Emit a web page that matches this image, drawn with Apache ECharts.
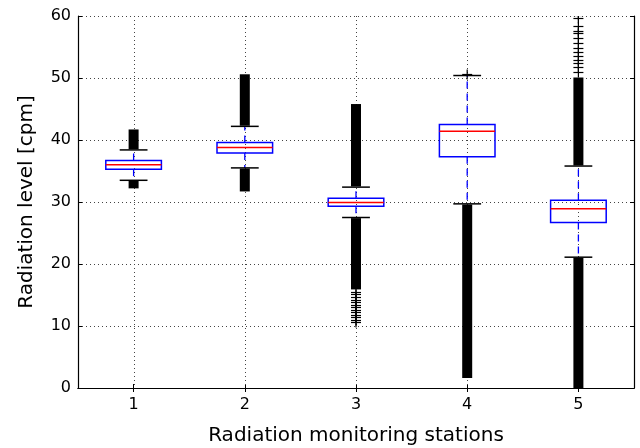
<!DOCTYPE html>
<html>
<head>
<meta charset="utf-8">
<script src="https://cdn.jsdelivr.net/npm/echarts@6/dist/echarts.min.js"></script>
<style>html,body{margin:0;padding:0;background:#fff}#c{width:640px;height:448px}</style>
</head>
<body>
<div id="c"></div>
<script>
// ---- data ----
const stations = ['1', '2', '3', '4', '5'];
const whiskerLow  = [33.5, 35.5, 27.5, 29.7, 21.1];
const q1          = [35.3, 37.9, 29.3, 37.3, 26.7];
const median      = [36.0, 38.8, 29.9, 41.4, 28.9];
const q3          = [36.7, 39.6, 30.6, 42.5, 30.3];
const whiskerHigh = [38.4, 42.2, 32.4, 50.4, 35.8];
const yTicks = [0, 10, 20, 30, 40, 50, 60];
// dense runs of outliers: [station index, low, high]
const outlierRuns = [
  [0, 38.5, 41.7], [0, 32.2, 33.4],
  [1, 42.3, 50.6], [1, 31.7, 35.4],
  [2, 32.5, 45.8], [2, 15.9, 27.4],
  [3, 1.6, 29.6],
  [4, 35.9, 50.1], [4, -1, 21.0]
];
// isolated outliers: [station index, value]
const outlierPoints = [
  [2, 15.5], [2, 15.1], [2, 14.6], [2, 14.2], [2, 13.8], [2, 13.4], [2, 13.0],
  [2, 12.6], [2, 12.2], [2, 11.8], [2, 11.4], [2, 11.0], [2, 10.6],
  [3, 50.7],
  [4, 51.0], [4, 51.7], [4, 52.4], [4, 52.9], [4, 53.6], [4, 54.2], [4, 54.9],
  [4, 55.7], [4, 56.4], [4, 57.3], [4, 57.6], [4, 58.4], [4, 59.6], [4, 60.2]
];

const FONT = 'DejaVu Sans';
const chart = echarts.init(document.getElementById('c'), null, {renderer: 'canvas'});

function vgrid(params, api) {
  const i = api.value(0);
  const x = Math.round(api.coord([i, 0])[0]) + 0.5;
  const cs = params.coordSys;
  return {
    type: 'line',
    shape: {x1: x, y1: cs.y, x2: x, y2: cs.y + cs.height},
    style: {stroke: '#444', lineWidth: 1, lineDash: [1, 3]}
  };
}

function runItem(params, api) {
  const i = api.value(0);
  const x = api.coord([i, 0])[0];
  const yLo = api.coord([i, api.value(1)])[1];
  const yHi = api.coord([i, api.value(2)])[1];
  return {
    type: 'rect',
    shape: {x: x - 5, y: yHi, width: 10, height: yLo - yHi},
    style: {fill: '#000'}
  };
}

function pointItem(params, api) {
  const i = api.value(0);
  const p = api.coord([i, api.value(1)]);
  const x = p[0], y = Math.round(p[1]) + 0.5;
  return {
    type: 'group',
    children: [
      {type: 'line', shape: {x1: x - 5, y1: y, x2: x + 5, y2: y}, style: {stroke: '#000', lineWidth: 1.2}},
      {type: 'line', shape: {x1: x, y1: y - 5, x2: x, y2: y + 5}, style: {stroke: '#000', lineWidth: 1.2}}
    ]
  };
}

function boxItem(params, api) {
  const i = api.value(0);
  const x = api.coord([i, 0])[0];
  const bw = api.size([1, 0])[0] * 0.5;
  const cw = bw * 0.5;
  const yWl = api.coord([i, api.value(1)])[1];
  const yQ1 = api.coord([i, api.value(2)])[1];
  const yMd = api.coord([i, api.value(3)])[1];
  const yQ3 = api.coord([i, api.value(4)])[1];
  const yWh = api.coord([i, api.value(5)])[1];
  const dash = {stroke: '#0000ff', lineWidth: 1.3, lineDash: [7, 5]};
  return {
    type: 'group',
    children: [
      {type: 'line', shape: {x1: x, y1: yQ3, x2: x, y2: yWh}, style: dash},
      {type: 'line', shape: {x1: x, y1: yQ1, x2: x, y2: yWl}, style: dash},
      {type: 'line', shape: {x1: x - cw / 2, y1: yWh, x2: x + cw / 2, y2: yWh}, style: {stroke: '#000', lineWidth: 1.5}},
      {type: 'line', shape: {x1: x - cw / 2, y1: yWl, x2: x + cw / 2, y2: yWl}, style: {stroke: '#000', lineWidth: 1.5}},
      {type: 'rect', shape: {x: x - bw / 2, y: yQ3, width: bw, height: yQ1 - yQ3}, style: {fill: 'none', stroke: '#0000ff', lineWidth: 1.5}},
      {type: 'line', shape: {x1: x - bw / 2, y1: yMd, x2: x + bw / 2, y2: yMd}, style: {stroke: '#ff0000', lineWidth: 1.5}}
    ]
  };
}

const axisLine = {show: true, lineStyle: {color: '#000', width: 1.2}};
const tickStyle = {show: true, inside: true, length: 4, lineStyle: {color: '#000', width: 1}};

chart.setOption({
  animation: false,
  backgroundColor: '#fff',
  grid: {left: 78, right: 6, top: 16, bottom: 60, containLabel: false, outerBoundsMode: 'none'},
  xAxis: [{
    type: 'category', data: stations, position: 'bottom',
    boundaryGap: true,
    axisLine: axisLine,
    axisTick: Object.assign({alignWithLabel: true}, tickStyle),
    axisLabel: {color: '#000', fontFamily: FONT, fontSize: 16, margin: 9},
    splitLine: {show: false},
    name: 'Radiation monitoring stations', nameLocation: 'middle', nameGap: 38,
    nameTextStyle: {color: '#000', fontFamily: FONT, fontSize: 20}
  }, {
    type: 'category', data: stations, position: 'top',
    boundaryGap: true,
    axisLine: axisLine,
    axisTick: Object.assign({alignWithLabel: true}, tickStyle),
    axisLabel: {show: false},
    splitLine: {show: false}
  }],
  yAxis: [{
    type: 'value', min: 0, max: 60, interval: 10, position: 'left',
    axisLine: axisLine,
    axisTick: tickStyle,
    axisLabel: {color: '#000', fontFamily: FONT, fontSize: 16, margin: 7},
    splitLine: {show: true, lineStyle: {color: '#444', width: 1, type: [1, 3]}},
    name: 'Radiation level [cpm]', nameLocation: 'middle', nameGap: 41,
    nameTextStyle: {color: '#000', fontFamily: FONT, fontSize: 20}
  }, {
    type: 'value', min: 0, max: 60, interval: 10, position: 'right',
    axisLine: axisLine,
    axisTick: tickStyle,
    axisLabel: {show: false},
    splitLine: {show: false}
  }],
  series: [
    {type: 'custom', renderItem: vgrid, data: stations.map((s, i) => [i]), z: 1, silent: true},
    {type: 'custom', renderItem: runItem, data: outlierRuns, z: 2, clip: true, silent: true},
    {type: 'custom', renderItem: pointItem, data: outlierPoints, z: 2, clip: true, silent: true},
    {type: 'custom', renderItem: boxItem,
     data: stations.map((s, i) => [i, whiskerLow[i], q1[i], median[i], q3[i], whiskerHigh[i]]),
     z: 3, clip: true, silent: true}
  ]
});
</script>
</body>
</html>
